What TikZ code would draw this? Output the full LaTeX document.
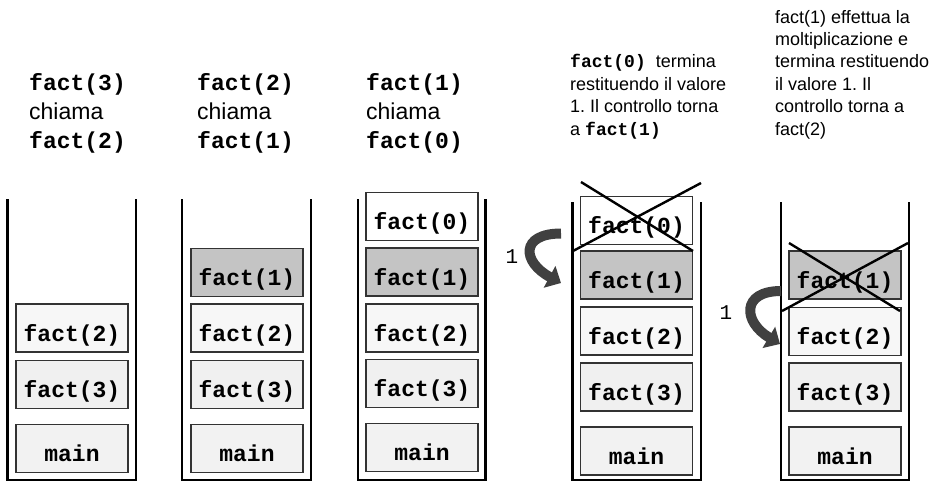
\documentclass[tikz,border=0pt]{standalone}
\usepackage{fontspec}
\setmainfont{Liberation Sans}
\setmonofont{Liberation Mono}
\usepackage{tikz}
\usetikzlibrary{arrows.meta,positioning,calc}
\definecolor{frameGray}{RGB}{51, 51, 51}
\definecolor{lightFrame}{RGB}{247, 247, 247}
\definecolor{paleFrame}{RGB}{240, 240, 240}
\definecolor{mainFrame}{RGB}{242, 242, 242}
\definecolor{activeFrame}{RGB}{196, 196, 196}
\definecolor{arrowGray}{RGB}{64, 64, 64}
\frenchspacing

\begin{document}
\begin{tikzpicture}[x=1pt,y=-1pt,
                frame/.style={draw=frameGray,line width=1.3pt,minimum width=112pt,minimum height=48pt,
                              inner sep=0pt,text height=26pt,text depth=0pt,
                              font=\fontsize{23}{27}\selectfont\ttfamily\bfseries},
                wall/.style={line width=2.6pt,line cap=rect},
                cross/.style={line width=2.4pt},
                note/.style={anchor=base west,align=left,inner sep=0pt},
                retarrow/.style={arrowGray,line width=10pt,-{Triangle[length=13pt,width=24pt]}},
                retlabel/.style={font=\fontsize{21}{24}\selectfont\ttfamily}
            ]
                \useasboundingbox (0,0) rectangle (939,482);

                % stack walls
                \draw[wall] (7.5,200) -- (7.5,480) -- (136,480) -- (136,200);
                \draw[wall] (182,200) -- (182,480) -- (311,480) -- (311,200);
                \draw[wall] (358,200) -- (358,480) -- (485.5,480) -- (485.5,200);
                \draw[wall] (572.5,203) -- (572.5,480) -- (701,480) -- (701,203);
                \draw[wall] (781,203) -- (781,480) -- (909,480) -- (909,203);

                % captions (anchored at the last line)
                \node[note,font=\fontsize{23}{29}\selectfont] (cap1) at (29,148)
                    {\ttfamily\bfseries fact(3)\\chiama\\\ttfamily\bfseries fact(2)};
                \node[note,font=\fontsize{23}{29}\selectfont] (cap2) at (197,148)
                    {\ttfamily\bfseries fact(2)\\chiama\\\ttfamily\bfseries fact(1)};
                \node[note,font=\fontsize{23}{29}\selectfont] (cap3) at (366,148)
                    {\ttfamily\bfseries fact(1)\\chiama\\\ttfamily\bfseries fact(0)};
                \node[note,font=\fontsize{18}{22.4}\selectfont] (cap4) at (570,135)
                    {\texttt{\textbf{fact(0)}}\ \ termina\\restituendo il valore\\1. Il controllo torna\\a \texttt{\textbf{fact(1)}}};
                \node[note,font=\fontsize{18}{22.4}\selectfont] (cap5) at (775,135)
                    {fact(1) effettua la\\moltiplicazione e\\termina restituendo\\il valore 1. Il\\controllo torna a\\fact(2)};

                % stack 1
                \node[frame,fill=lightFrame] (s1f2) at (72,328) {fact(2)};
                \node[frame,fill=paleFrame] (s1f3) at (72,384.5) {fact(3)};
                \node[frame,fill=mainFrame] (s1main) at (72,448.5) {main};

                % stack 2
                \node[frame,fill=activeFrame] (s2f1) at (247,272.5) {fact(1)};
                \node[frame,fill=lightFrame] (s2f2) at (247,328) {fact(2)};
                \node[frame,fill=paleFrame] (s2f3) at (247,384.5) {fact(3)};
                \node[frame,fill=mainFrame] (s2main) at (247,448.5) {main};

                % stack 3
                \node[frame,fill=white] (s3f0) at (422,216.5) {fact(0)};
                \node[frame,fill=activeFrame] (s3f1) at (422,272) {fact(1)};
                \node[frame,fill=lightFrame] (s3f2) at (422,328) {fact(2)};
                \node[frame,fill=paleFrame] (s3f3) at (422,383.5) {fact(3)};
                \node[frame,fill=mainFrame] (s3main) at (422,447.5) {main};

                % stack 4
                \node[frame,fill=white] (s4f0) at (636.5,220.5) {fact(0)};
                \node[frame,fill=activeFrame] (s4f1) at (636.5,275) {fact(1)};
                \node[frame,fill=lightFrame] (s4f2) at (636.5,331) {fact(2)};
                \node[frame,fill=paleFrame] (s4f3) at (636.5,387) {fact(3)};
                \node[frame,fill=mainFrame] (s4main) at (636.5,451) {main};
                \draw[cross] (581,182) -- (693,251);
                \draw[cross] (701,183) -- (573,251);

                % stack 5
                \node[frame,fill=activeFrame] (s5f1) at (845,275) {fact(1)};
                \node[frame,fill=lightFrame] (s5f2) at (845,331.5) {fact(2)};
                \node[frame,fill=paleFrame] (s5f3) at (845,387) {fact(3)};
                \node[frame,fill=mainFrame] (s5main) at (845,451) {main};
                \draw[cross] (789,243) -- (900,311);
                \draw[cross] (908,243) -- (782,311);

                % return arrows
                \coordinate (ret1from) at (561,233.5);
                \coordinate (ret1to) at (561,283);
                \draw[retarrow] (ret1from) .. controls (520,233.5) and (522,262) .. (ret1to);
                \node[retlabel] (ret1) at (512,257) {1};
                \coordinate (ret2from) at (781,291);
                \coordinate (ret2to) at (780,344);
                \draw[retarrow] (ret2from) .. controls (741,291) and (743,322) .. (ret2to);
                \node[retlabel] (ret2) at (726,313) {1};
            \end{tikzpicture}
\end{document}
